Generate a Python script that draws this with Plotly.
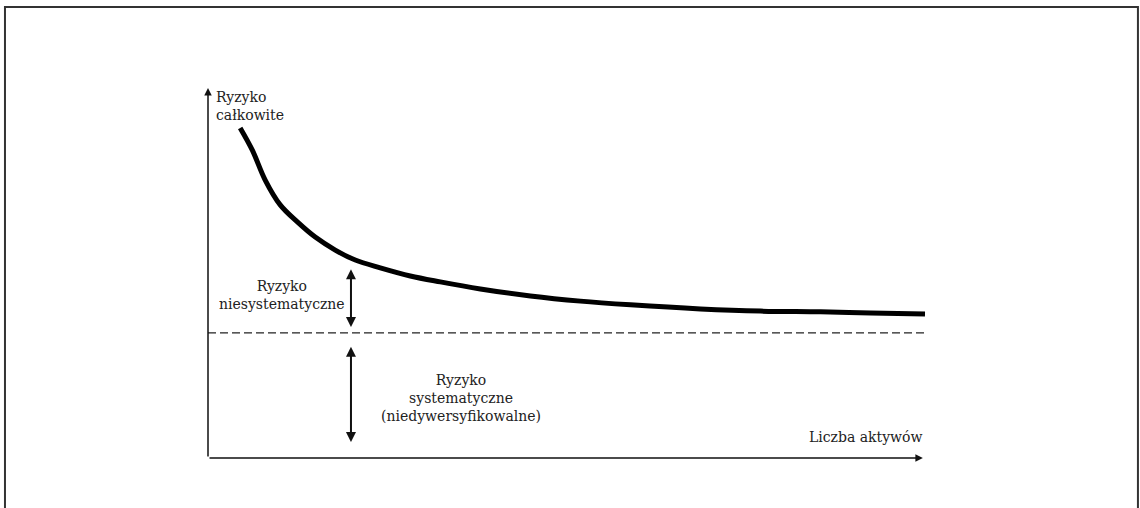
import plotly.graph_objects as go

# Data (number of assets vs. risk, arbitrary units 0-100)
assets = [4.5, 6.2, 8.0, 10.1, 12.5, 15.0, 17.8, 20.6, 24.1, 28.3, 32.5, 38.1,
          45.1, 52.1, 59.1, 68.9, 77.3, 85.7, 92.7, 100.3]
total_risk = [89.2, 83.2, 75.1, 68.4, 63.8, 59.7, 56.2, 53.5, 51.4, 49.2, 47.6, 45.7,
              43.8, 42.4, 41.4, 40.3, 39.7, 39.5, 39.2, 38.9]
systematic_level = 33.8
marker_x = 20.0
nonsys_range = [51.4, 35.4]
sys_range = [30.5, 4.3]

FONT = "DejaVu Serif, serif"
fig = go.Figure()
fig.add_trace(go.Scatter(x=assets, y=total_risk, mode="lines",
                         line=dict(color="black", width=5, shape="spline"),
                         hoverinfo="skip", showlegend=False))
fig.add_trace(go.Scatter(x=[0, 100.3], y=[systematic_level, systematic_level], mode="lines",
                         line=dict(color="#222", width=1.3, dash="8px,4px"),
                         hoverinfo="skip", showlegend=False))

ann = []
# axis arrows
ann.append(dict(x=100.0, y=0, ax=0, ay=0, xref="x", yref="y", axref="x", ayref="y",
                showarrow=True, arrowhead=2, arrowsize=1, arrowwidth=1.5, arrowcolor="#111", text=""))
ann.append(dict(x=0, y=100, ax=0, ay=0, xref="x", yref="y", axref="x", ayref="y",
                showarrow=True, arrowhead=2, arrowsize=1, arrowwidth=1.5, arrowcolor="#111", text=""))
# double arrows
for r in (nonsys_range, sys_range):
    ann.append(dict(x=marker_x, y=r[1], ax=marker_x, ay=r[0], xref="x", yref="y",
                    axref="x", ayref="y", showarrow=True, arrowhead=2, startarrowhead=2,
                    arrowside="end+start", arrowsize=1, arrowwidth=2, arrowcolor="#111", text=""))

font = dict(family=FONT, size=14, color="#222")
ann.append(dict(x=0.009, y=1.0015, xref="paper", yref="paper", text="Ryzyko<br>całkowite", showarrow=False,
                xanchor="left", yanchor="top", align="left", font=font))
ann.append(dict(x=10.4, y=49.3, xref="x", yref="y", text="Ryzyko<br>niesystematyczne", showarrow=False,
                xanchor="center", yanchor="top", align="center", font=font))
ann.append(dict(x=35.4, y=23.7, xref="x", yref="y", text="Ryzyko<br>systematyczne<br>(niedywersyfikowalne)",
                showarrow=False, xanchor="center", yanchor="top", align="center", font=font))
ann.append(dict(x=100.3, y=8.3, xref="x", yref="y", text="Liczba aktywów", showarrow=False,
                xanchor="right", yanchor="top", align="right", font=font))

fig.update_layout(
    width=1140, height=508,
    margin=dict(l=208, r=210, t=88, b=50),
    plot_bgcolor="rgba(0,0,0,0)", paper_bgcolor="white",
    xaxis=dict(range=[0, 101], showgrid=False, zeroline=False, showticklabels=False,
               ticks="", showline=False, fixedrange=True),
    yaxis=dict(range=[0, 100], showgrid=False, zeroline=False, showticklabels=False,
               ticks="", showline=False, fixedrange=True),
    annotations=ann,
    shapes=[dict(type="rect", xref="paper", yref="paper", x0=-0.2812, x1=1.288, y0=-0.2, y1=1.2189,
                 line=dict(color="#333", width=2), layer="below")],
)
fig.write_html("out.html", config={"displayModeBar": False},
               post_script="document.body.style.margin='0';document.body.style.overflow='hidden';")
